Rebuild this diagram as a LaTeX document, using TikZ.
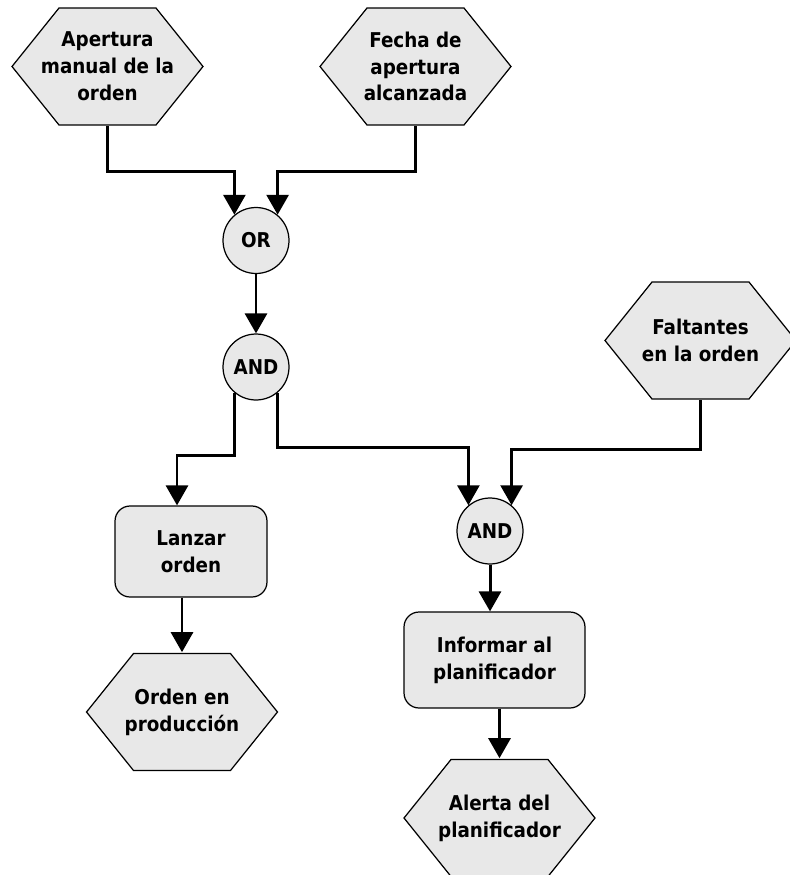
\documentclass[tikz,border=0pt]{standalone}
\usepackage{fontspec}
\setmainfont{DejaVu Sans Condensed}[BoldFont={DejaVu Sans Condensed Bold}]
\usetikzlibrary{arrows.meta}

\begin{document}
\begin{tikzpicture}[x=0.02cm,y=-0.02cm,
  every node/.style={font=\bfseries\fontsize{11.6}{15.3}\selectfont,align=center},
  box/.style={fill=black!9,draw,line width=0.7pt},
  event/.style={minimum width=3.86cm,minimum height=2.38cm,inner sep=0pt,
    path picture={\filldraw[box]
      ([xshift=0.02cm]path picture bounding box.west)
      -- ([xshift=0.96cm,yshift=-0.02cm]path picture bounding box.north west)
      -- ([xshift=-0.96cm,yshift=-0.02cm]path picture bounding box.north east)
      -- ([xshift=-0.02cm]path picture bounding box.east)
      -- ([xshift=-0.96cm,yshift=0.02cm]path picture bounding box.south east)
      -- ([xshift=0.96cm,yshift=0.02cm]path picture bounding box.south west)
      -- cycle;}},
  gate/.style={box,circle,minimum size=1.32cm,inner sep=0pt},
  func/.style={box,rounded corners=0.3cm,inner sep=0pt},
  flow/.style={line width=1.7pt,-{Triangle[length=0.4cm,width=0.44cm]}}]
  \useasboundingbox (0,0) rectangle (789,875);

  \node[event] (manual) at (107.5,66.5) {Apertura\\manual de la\\orden};
  \node[event] (fecha) at (415.5,66.5) {Fecha de\\apertura\\alcanzada};
  \node[gate] (or) at (256,240.5) {OR};
  \node[gate] (and1) at (256,367) {AND};
  \node[event] (faltan) at (700.5,340.5) {Faltantes\\en la orden};
  \node[gate] (and2) at (490,531) {AND};
  \node[func,minimum width=3.04cm,minimum height=1.82cm] (lanzar) at (191,551.5) {Lanzar\\orden};
  \node[event] (prod) at (182,712) {Orden en\\producción};
  \node[func,minimum width=3.62cm,minimum height=1.92cm] (inform) at (494.5,660) {Informar al\\planificador};
  \node[event] (alerta) at (499.5,818) {Alerta del\\planificador};

  \draw[flow] (manual.south) -- ++(0,45) -| (or.130);
  \draw[flow] (fecha.south) -- ++(0,45) -| (or.50);
  \draw[flow] (or.south) -- (and1.north);
  \draw[flow] (and1.230) -- ++(0,63) -| ([xshift=-0.28cm]lanzar.north);
  \draw[flow] (and1.310) -- ++(0,55) -| (and2.130);
  \draw[flow] (faltan.south) -- ++(0,49) -| (and2.50);
  \draw[flow] (lanzar.south -| prod.north) -- (prod.north);
  \draw[flow] (and2.south) -- (and2.south |- inform.north);
  \draw[flow] (inform.south -| alerta.north) -- (alerta.north);
\end{tikzpicture}
\end{document}
